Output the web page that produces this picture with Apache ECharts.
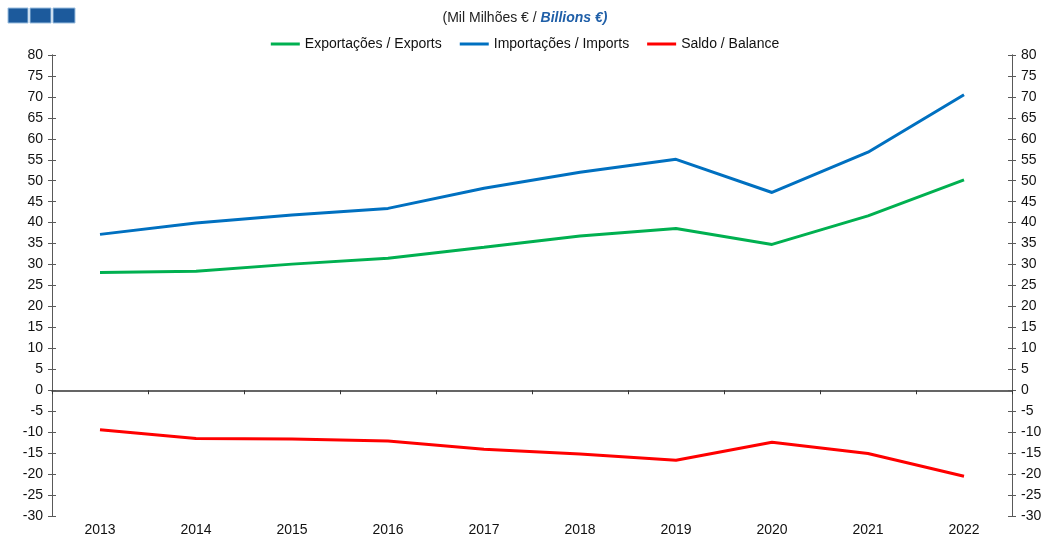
<!DOCTYPE html>
<html><head><meta charset="utf-8">
<script src="https://cdn.jsdelivr.net/npm/echarts@6/dist/echarts.min.js"></script>
<style>html,body{margin:0;padding:0;background:#fff}#c{width:1050px;height:541px}</style>
</head><body><div id="c"></div>
<script>
const years = ['2013','2014','2015','2016','2017','2018','2019','2020','2021','2022'];
const exportsVals = [28.1, 28.4, 30.1, 31.5, 34.1, 36.8, 38.6, 34.8, 41.6, 50.2];
const importsVals = [37.2, 39.9, 41.8, 43.4, 48.2, 52.0, 55.1, 47.2, 56.8, 70.5];
const balanceVals = [-9.4, -11.5, -11.6, -12.1, -14.1, -15.2, -16.7, -12.4, -15.1, -20.5];
const seriesNames = ['Exportações / Exports', 'Importações / Imports', 'Saldo / Balance'];

const chart = echarts.init(document.getElementById('c'));
const F = 'Liberation Sans, Arial, sans-serif';
const yBase = {type:'value', min:-30, max:80, interval:5, splitLine:{show:false}};
function yAx(pos, labels, inside){
  return Object.assign({}, yBase, {
    position: pos,
    axisLine:{show:true, lineStyle:{color:'#595959', width:1}},
    axisTick:{show:true, inside: inside, length:4, lineStyle:{color:'#595959'}},
    axisLabel:{show:labels, color:'#111', fontFamily:F, fontSize:14, margin:9}
  });
}
chart.setOption({
  backgroundColor:'#fff',
  animation:false,
  title:{
    text:'{a|(Mil Milhões € / }{b|Billions €)}',
    left:'center', top:6,
    textStyle:{rich:{
      a:{fontFamily:F, fontSize:14, color:'#222', fontWeight:'normal'},
      b:{fontFamily:F, fontSize:14, color:'#1f5fa8', fontWeight:'bold', fontStyle:'italic'}
    }}
  },
  legend:{
    top:32, left:'center', itemWidth:29, itemHeight:3, itemGap:18,
    icon:'rect',
    textStyle:{fontFamily:F, fontSize:14, color:'#111'},
    data: seriesNames
  },
  graphic:[
    {type:'rect', shape:{x:8,y:8,width:20,height:15}, style:{fill:'#1c5a9c', stroke:'#9bbfe0', lineWidth:1}},
    {type:'rect', shape:{x:30,y:8,width:21,height:15}, style:{fill:'#1c5a9c', stroke:'#9bbfe0', lineWidth:1}},
    {type:'rect', shape:{x:53,y:8,width:22,height:15}, style:{fill:'#1c5a9c', stroke:'#9bbfe0', lineWidth:1}}
  ],
  grid:{left:52, right:38, top:55, bottom:25},
  xAxis:[
    {type:'category', data:years, boundaryGap:true, position:'bottom',
     axisLine:{show:false, onZero:false}, axisTick:{show:false},
     axisLabel:{color:'#111', fontFamily:F, fontSize:14, margin:7}},
    {type:'category', data:years, boundaryGap:true, position:'bottom',
     axisLine:{show:true, onZero:true, lineStyle:{color:'#333', width:1.5}},
     axisTick:{show:true, length:4, lineStyle:{color:'#333'}},
     axisLabel:{show:false}}
  ],
  yAxis:[yAx('left', true, false), yAx('right', true, false), yAx('left', false, true), yAx('right', false, true)],
  series:[
    {name:seriesNames[0], type:'line', data:exportsVals, xAxisIndex:0, yAxisIndex:0, symbol:'none', color:'#00b050', lineStyle:{width:3, color:'#00b050'}},
    {name:seriesNames[1], type:'line', data:importsVals, xAxisIndex:0, yAxisIndex:0, symbol:'none', color:'#0070c0', lineStyle:{width:3, color:'#0070c0'}},
    {name:seriesNames[2], type:'line', data:balanceVals, xAxisIndex:0, yAxisIndex:0, symbol:'none', color:'#ff0000', lineStyle:{width:3, color:'#ff0000'}}
  ]
});
</script></body></html>
